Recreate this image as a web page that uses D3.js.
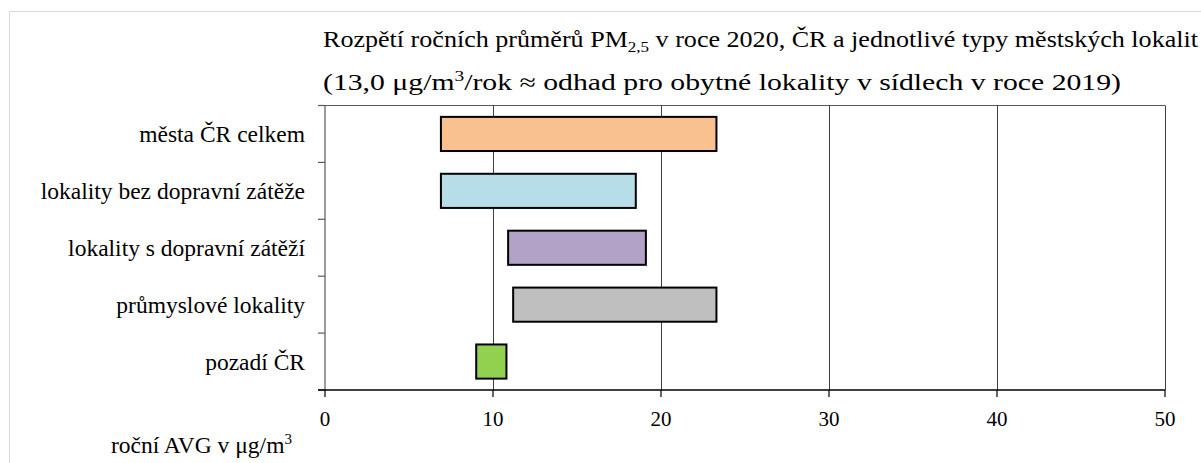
<!DOCTYPE html>
<html>
<head>
<meta charset="utf-8">
<script src="https://cdn.jsdelivr.net/npm/d3@7"></script>
<style>
  body { margin: 0; background: #fff; }
  text { font-family: "Liberation Serif", "Times New Roman", serif; fill: #000; }
</style>
</head>
<body>
<div id="chart"></div>
<script>
const categories = [
	'města ČR celkem',
	'lokality bez dopravní zátěže',
	'lokality s dopravní zátěží',
	'průmyslové lokality',
	'pozadí ČR'
];
const rangeLow  = [6.9, 6.9, 10.9, 11.2, 9.0];
const rangeHigh = [23.3, 18.5, 19.1, 23.3, 10.8];
const barColors = ['#f9c18f', '#b7dde8', '#b3a2c7', '#bfbfbf', '#92d050'];
const xTicks = [0, 10, 20, 30, 40, 50];

const W = 1201, H = 463;
const plotL = 325, plotR = 1165, plotT = 105.5, plotB = 390;

const svg = d3.select('#chart').append('svg')
	.attr('width', W)
	.attr('height', H);

// outer frame (only top / left edges visible)
svg.append('path')
	.attr('d', 'M9.5,' + H + ' V11.5 H' + W)
	.attr('fill', 'none')
	.attr('stroke', '#d9d9d9')
	.attr('stroke-width', 1);

const x = d3.scaleLinear().domain([0, 50]).range([plotL, plotR]);
const y = d3.scaleBand().domain(categories).range([plotT, plotB])
	.paddingInner(0.4).paddingOuter(0.2);
const step = y.step();

// title (two lines, squeezed like the original)
svg.append('text')
	.attr('x', 323).attr('y', 47)
	.attr('font-size', 23)
	.attr('textLength', 875).attr('lengthAdjust', 'spacingAndGlyphs')
	.html('Rozpětí ročních průměrů PM<tspan font-size="15" dy="5">2,5</tspan><tspan dy="-5">  v roce 2020, ČR a jednotlivé typy městských lokalit</tspan>');
svg.append('text')
	.attr('x', 323).attr('y', 90)
	.attr('font-size', 23)
	.attr('textLength', 798).attr('lengthAdjust', 'spacingAndGlyphs')
	.html('(13,0 μg/m<tspan font-size="15" dy="-9">3</tspan><tspan dy="9">/rok ≈ odhad pro obytné lokality v sídlech v roce 2019)</tspan>');

// gridlines
svg.append('g')
	.selectAll('line')
	.data(xTicks.filter(d => d > 0))
	.enter().append('line')
	.attr('x1', d => Math.round(x(d)) + 0.5)
	.attr('x2', d => Math.round(x(d)) + 0.5)
	.attr('y1', plotT)
	.attr('y2', plotB)
	.attr('stroke', '#404040')
	.attr('stroke-width', 1);

// top border
svg.append('line')
	.attr('x1', plotL - 7).attr('x2', plotR)
	.attr('y1', plotT).attr('y2', plotT)
	.attr('stroke', '#595959').attr('stroke-width', 1.2);

// y axis + ticks between categories
svg.append('line')
	.attr('x1', plotL).attr('x2', plotL)
	.attr('y1', plotT).attr('y2', plotB)
	.attr('stroke', '#595959').attr('stroke-width', 1.2);
const yTickPos = categories.map(c => y(c) - step * 0.2).concat([plotB]);
svg.append('g')
	.selectAll('line')
	.data(yTickPos)
	.enter().append('line')
	.attr('x1', plotL - 7).attr('x2', plotL)
	.attr('y1', d => d).attr('y2', d => d)
	.attr('stroke', '#595959').attr('stroke-width', 1.2);

// bars
const rows = categories.map((c, i) => ({cat: c, lo: rangeLow[i], hi: rangeHigh[i], color: barColors[i]}));
svg.append('g')
	.selectAll('rect')
	.data(rows)
	.enter().append('rect')
	.attr('x', d => x(d.lo))
	.attr('y', d => y(d.cat))
	.attr('width', d => x(d.hi) - x(d.lo))
	.attr('height', y.bandwidth())
	.attr('fill', d => d.color)
	.attr('stroke', '#000')
	.attr('stroke-width', 2);

// category labels
svg.append('g')
	.selectAll('text')
	.data(categories)
	.enter().append('text')
	.attr('x', 305)
	.attr('y', d => y(d) + y.bandwidth() / 2 + 8)
	.attr('text-anchor', 'end')
	.attr('font-size', 23.5)
	.text(d => d);

// x axis
svg.append('line')
	.attr('x1', plotL - 7).attr('x2', plotR)
	.attr('y1', plotB).attr('y2', plotB)
	.attr('stroke', '#000').attr('stroke-width', 1.3);
svg.append('g')
	.selectAll('line')
	.data(xTicks)
	.enter().append('line')
	.attr('x1', d => x(d)).attr('x2', d => x(d))
	.attr('y1', plotB).attr('y2', plotB + 7)
	.attr('stroke', '#000').attr('stroke-width', 1.2);
svg.append('g')
	.selectAll('text')
	.data(xTicks)
	.enter().append('text')
	.attr('x', d => x(d))
	.attr('y', 426)
	.attr('text-anchor', 'middle')
	.attr('font-size', 21)
	.text(d => d);

// axis title
svg.append('text')
	.attr('x', 111).attr('y', 453)
	.attr('font-size', 23.5)
	.html('roční AVG v μg/m<tspan font-size="15" dy="-9">3</tspan>');
</script>
</body>
</html>
